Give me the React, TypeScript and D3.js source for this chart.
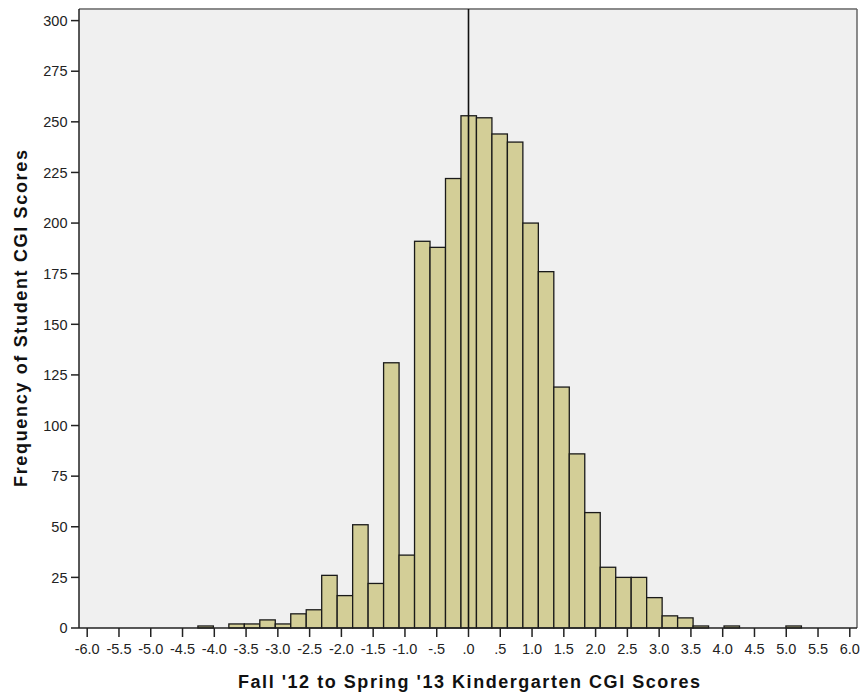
import React from "react";
import * as d3 from "d3";

// Histogram data: bin start, width and counts
const binStart = -4.258;
const binWidth = 0.2435;
const counts = [
  1, 0, 2, 2, 4, 2, 7, 9, 26, 16, 51, 22, 131, 36, 191, 188, 222, 253, 252, 244,
  240, 200, 176, 119, 86, 57, 30, 25, 25, 15, 6, 5, 1, 0, 1, 0, 0, 0, 1,
];
const xTicks = d3.range(-6, 6.01, 0.5);
const xTickLabels = [
  "-6.0", "-5.5", "-5.0", "-4.5", "-4.0", "-3.5", "-3.0", "-2.5", "-2.0", "-1.5", "-1.0", "-.5",
  ".0", ".5", "1.0", "1.5", "2.0", "2.5", "3.0", "3.5", "4.0", "4.5", "5.0", "5.5", "6.0",
];
const yTicks = d3.range(0, 301, 25);
const xTitle = "Fall '12 to Spring '13 Kindergarten CGI Scores";
const yTitle = "Frequency of Student CGI Scores";

export default function App() {
  const W = 862, H = 698;
  const left = 79, right = 857, top = 9, bottom = 628;
  const x = d3.scaleLinear().domain([-6, 6]).range([87.2, 849.8]);
  const y = d3.scaleLinear().domain([0, 300]).range([bottom, 20.6]);
  const font = "Arial, 'Liberation Sans', sans-serif";
  const bins = counts.map((c, i) => ({
    x0: binStart + i * binWidth,
    x1: binStart + (i + 1) * binWidth,
    c,
  }));
  return (
    <svg
      width={W}
      height={H}
      style={{ position: "absolute", left: 0, top: 0, background: "#fff" }}
      fontFamily={font}
    >
      <rect x={left} y={top} width={right - left} height={bottom - top} fill="#F0F0F0" />
      {bins
        .filter((b) => b.c > 0)
        .map((b, i) => (
          <rect
            key={i}
            x={x(b.x0)}
            y={y(b.c)}
            width={x(b.x1) - x(b.x0)}
            height={bottom - y(b.c)}
            fill="#D3CE97"
            stroke="#1a1a1a"
            strokeWidth={1.3}
          />
        ))}
      {/* frame */}
      <line x1={left} x2={right} y1={top} y2={top} stroke="#8a8a8a" strokeWidth={2} />
      <line x1={right} x2={right} y1={top} y2={bottom} stroke="#666" strokeWidth={1.5} />
      <line x1={left} x2={left} y1={top} y2={bottom} stroke="#222" strokeWidth={1.5} />
      <line x1={left} x2={right} y1={bottom} y2={bottom} stroke="#222" strokeWidth={1.5} />
      {/* zero line */}
      <line x1={x(0)} x2={x(0)} y1={top} y2={bottom} stroke="#111" strokeWidth={1.6} />
      {/* y axis ticks */}
      {yTicks.map((t) => (
        <g key={t}>
          <line x1={71} x2={left} y1={y(t)} y2={y(t)} stroke="#222" strokeWidth={1.5} />
          <text x={67.5} y={y(t)} dy="0.36em" textAnchor="end" fontSize={14.5} fill="#222">
            {t}
          </text>
        </g>
      ))}
      {/* x axis ticks */}
      {xTicks.map((t, i) => (
        <g key={i}>
          <line x1={x(t)} x2={x(t)} y1={bottom} y2={bottom + 9} stroke="#222" strokeWidth={1.5} />
          <text x={x(t)} y={bottom + 26} textAnchor="middle" fontSize={14.5} fill="#222">
            {xTickLabels[i]}
          </text>
        </g>
      ))}
      <text
        x={469}
        y={687.5}
        textAnchor="middle"
        fontSize={18}
        fontWeight="bold"
        fill="#111"
        textLength={462}
        lengthAdjust="spacing"
      >
        {xTitle}
      </text>
      <text
        transform={`translate(27, 318.5) rotate(-90)`}
        textAnchor="middle"
        fontSize={18}
        fontWeight="bold"
        fill="#111"
        textLength={337}
        lengthAdjust="spacing"
      >
        {yTitle}
      </text>
    </svg>
  );
}
